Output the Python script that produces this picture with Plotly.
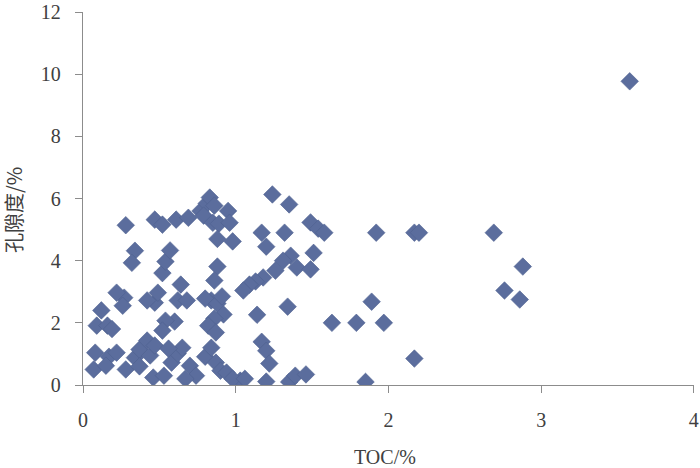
import plotly.graph_objects as go

toc = [0.28, 0.47, 0.52, 0.61, 0.69, 0.77, 0.81, 0.83, 0.86, 0.79, 0.85, 0.89, 0.95, 0.96, 0.98, 0.88,
       1.24, 1.35, 1.17, 1.32, 1.20, 1.49, 1.54, 1.58, 1.92, 2.17, 2.20, 2.69, 3.58,
       2.88, 2.76, 2.86, 1.89, 1.79, 1.97, 1.63, 2.17, 1.85,
       1.51, 1.36, 1.40, 1.49, 1.31, 1.26, 1.18, 1.13, 1.09, 1.05,
       1.34, 1.14, 1.17, 1.20, 1.22, 1.20, 1.03, 1.35, 1.39, 1.46,
       0.34, 0.32, 0.52, 0.54, 0.57, 0.47, 0.49, 0.42, 0.27, 0.22, 0.26, 0.12, 0.09, 0.16, 0.19,
       0.64, 0.62, 0.68, 0.88, 0.86, 0.84, 0.80, 0.88, 0.91, 0.92, 0.86, 0.82, 0.87,
       0.60, 0.54, 0.52,
       0.08, 0.07, 0.17, 0.15, 0.22, 0.28, 0.34, 0.37, 0.42, 0.44, 0.47, 0.46, 0.53, 0.58, 0.62,
       0.65, 0.56, 0.70, 0.74, 0.67, 0.80, 0.84, 0.87, 0.90, 0.94, 0.98, 1.06, 0.37]
porosity = [5.14, 5.32, 5.16, 5.32, 5.38, 5.60, 5.84, 6.03, 5.77, 5.45, 5.22, 5.19, 5.60, 5.22, 4.62, 4.70,
            6.13, 5.81, 4.90, 4.90, 4.45, 5.23, 5.03, 4.90, 4.90, 4.90, 4.90, 4.90, 9.77,
            3.81, 3.04, 2.75, 2.68, 2.00, 2.00, 2.00, 0.85, 0.10,
            4.25, 4.16, 3.78, 3.72, 4.00, 3.68, 3.46, 3.33, 3.23, 3.04,
            2.52, 2.26, 1.39, 1.10, 0.69, 0.11, 0.14, 0.10, 0.30, 0.34,
            4.32, 3.93, 3.60, 3.97, 4.33, 2.65, 2.97, 2.72, 2.81, 2.97, 2.55, 2.40, 1.91, 1.91, 1.80,
            3.23, 2.72, 2.72, 3.81, 3.36, 2.72, 2.78, 2.62, 2.85, 2.27, 2.14, 1.91, 1.69,
            2.04, 2.07, 1.75,
            1.04, 0.50, 0.91, 0.62, 1.04, 0.50, 0.88, 1.14, 1.43, 0.95, 1.27, 0.24, 0.30, 0.72, 1.01,
            1.20, 1.17, 0.62, 0.30, 0.20, 0.91, 1.20, 0.72, 0.46, 0.40, 0.20, 0.20, 0.60]

x_title = "TOC/%"
y_title = "孔隙度/%"

font_fam = "Liberation Serif, Noto Sans CJK SC, serif"
txt_col = "#404040"
ax_col = "#8C8C8C"

fig = go.Figure(go.Scatter(
    x=toc, y=porosity, mode="markers",
    marker=dict(symbol="diamond", size=13.5, color="#5B6D9D",
                line=dict(width=0.6, color="#4F6190")),
    hoverinfo="x+y",
))

fig.update_layout(
    width=700, height=468,
    margin=dict(l=83, r=6, t=12, b=83),
    paper_bgcolor="white", plot_bgcolor="white",
    showlegend=False,
    font=dict(family=font_fam, size=20, color=txt_col),
    xaxis=dict(range=[0, 4.001], dtick=1, tick0=0, showgrid=False, zeroline=False,
               automargin=False, ticklabeloverflow="allow",
               showline=True, linecolor=ax_col, linewidth=1.3,
               ticks="outside", ticklen=7, tickcolor=ax_col, tickwidth=1.3,
               ticklabelstandoff=10,
               tickfont=dict(family=font_fam, size=20, color=txt_col)),
    yaxis=dict(range=[0, 12], dtick=2, tick0=0, showgrid=False, zeroline=False,
               automargin=False, ticklabeloverflow="allow",
               showline=True, linecolor=ax_col, linewidth=1.3,
               ticks="outside", ticklen=7, tickcolor=ax_col, tickwidth=1.3,
               ticklabelstandoff=10,
               tickfont=dict(family=font_fam, size=20, color=txt_col)),
    annotations=[
        dict(text=x_title, xref="paper", yref="paper", x=0.494, y=-0.193,
             xanchor="center", yanchor="middle", showarrow=False,
             font=dict(family=font_fam, size=20, color=txt_col)),
        dict(text=y_title, xref="paper", yref="paper", x=-0.1146, y=0.469,
             xanchor="center", yanchor="middle", showarrow=False, textangle=-90,
             font=dict(family="Noto Sans CJK SC, Liberation Serif, serif", size=20, color=txt_col)),
    ],
)

fig.write_html("out.html",
               config={"displayModeBar": False},
               post_script="document.body.style.margin='0';document.body.style.overflow='hidden';")
